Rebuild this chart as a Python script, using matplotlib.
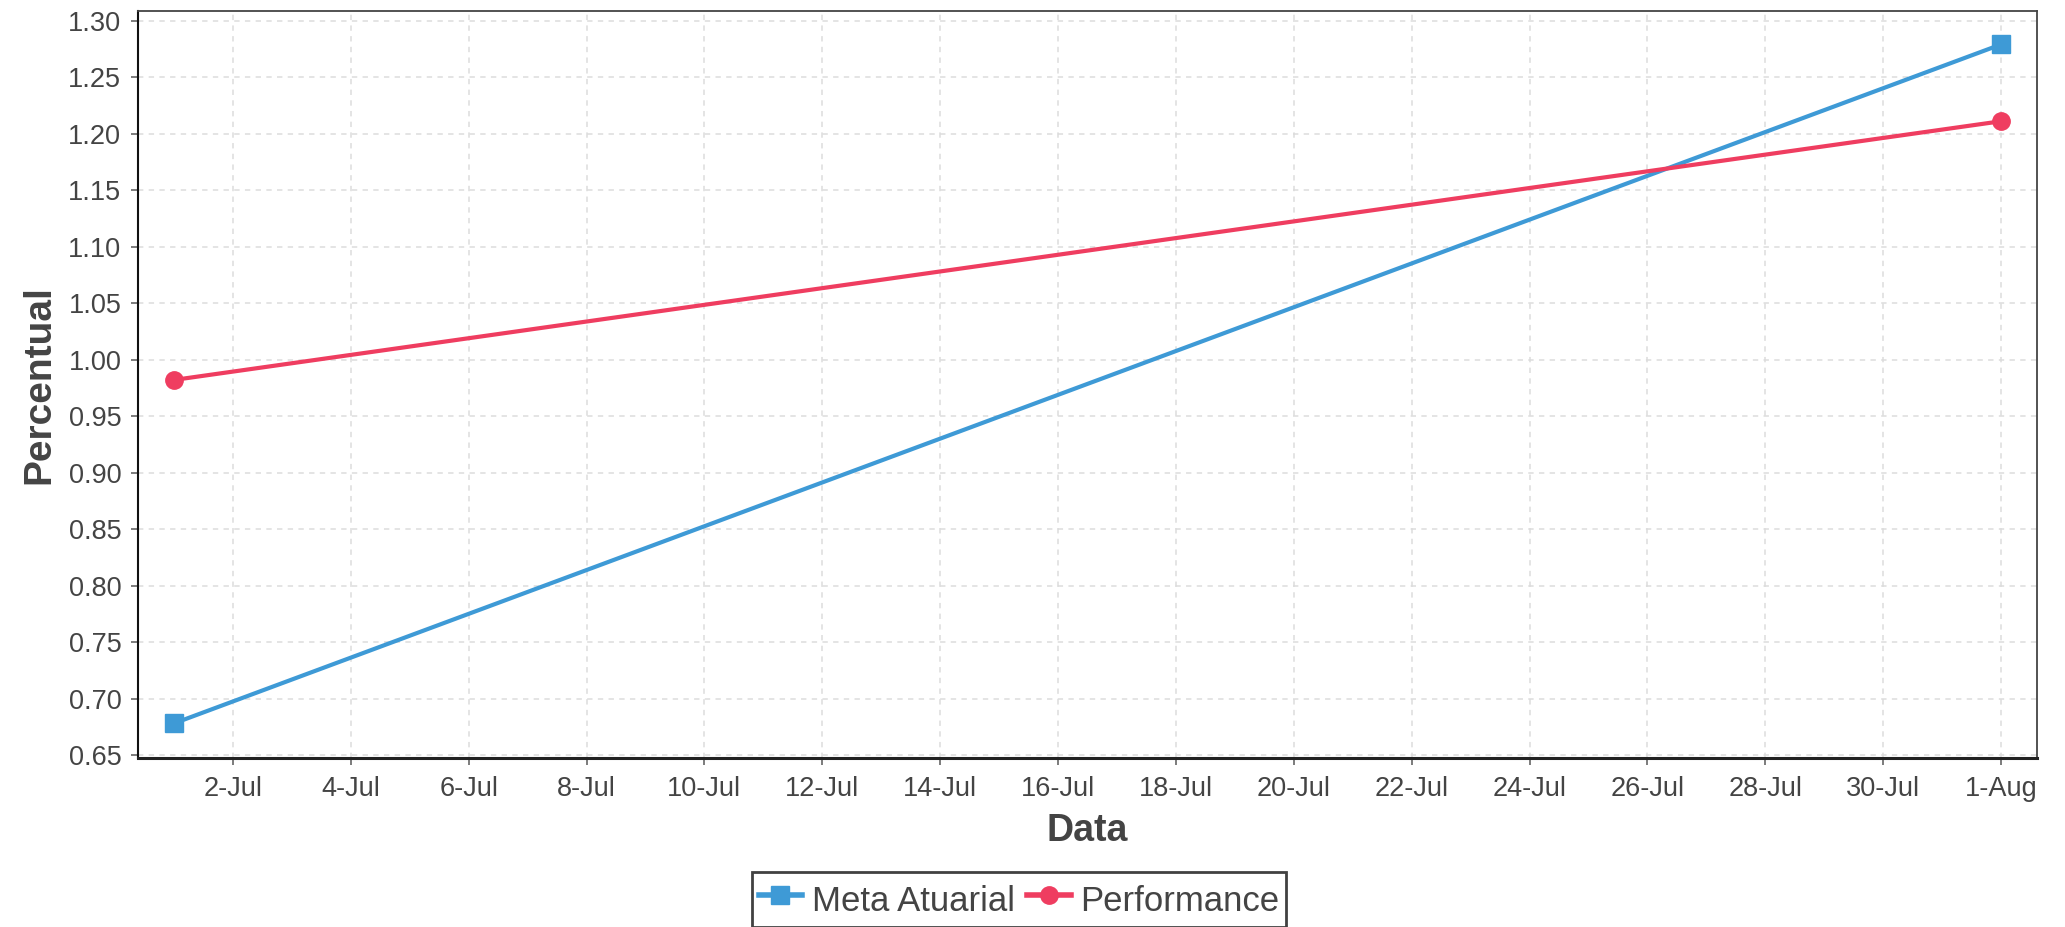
import matplotlib
matplotlib.use("Agg")
import matplotlib.pyplot as plt
import pandas as pd

# ---- data ----
dates = pd.to_datetime(["2020-07-01", "2020-08-01"])
meta_atuarial = [0.678, 1.279]
performance = [0.982, 1.211]
series_names = ["Meta Atuarial", "Performance"]
y_ticks = [0.65, 0.70, 0.75, 0.80, 0.85, 0.90, 0.95, 1.00, 1.05, 1.10, 1.15, 1.20, 1.25, 1.30]
x_ticks = pd.date_range("2020-07-02", "2020-08-01", freq="2D")
x_label = "Data"
y_label = "Percentual"

plt.rcParams["font.family"] = ["Liberation Sans", "DejaVu Sans"]

BLUE = "#3e9ad6"
RED = "#ef3d60"
TXT = "#444444"

fig = plt.figure(figsize=(20.65, 9.27), dpi=100)
ax = fig.add_axes([138 / 2065, 1 - 757.7 / 927, (2037 - 138) / 2065, (757.7 - 11) / 927])

ax.plot(dates, meta_atuarial, color=BLUE, lw=3, marker="s", ms=12.5,
        label=series_names[0], zorder=3)
ax.plot(dates, performance, color=RED, lw=3, marker="o", ms=12.5,
        label=series_names[1], zorder=3)

pad = pd.Timedelta(hours=0.61 * 24)
ax.set_xlim(dates[0] - pad, dates[-1] + pad)
ax.set_ylim(0.6476, 1.3086)

ax.set_xticks(x_ticks)
ax.set_xticklabels([f"{d.day}-{d.strftime('%b')}" for d in x_ticks])
ax.set_yticks(y_ticks)
ax.set_yticklabels([f"{v:.2f}" for v in y_ticks])

ax.grid(True, color="#dcdcdc", lw=1.1, linestyle=(0, (3.5, 3.5)), zorder=0)
ax.set_axisbelow(True)

ax.tick_params(axis="both", colors="#666666", length=5, width=1.2,
               labelsize=19.5, labelcolor=TXT)
ax.tick_params(axis="y", pad=7)
ax.tick_params(axis="x", pad=8)

for s in ["top", "right"]:
    ax.spines[s].set_color("#444444")
    ax.spines[s].set_linewidth(1.3)
ax.spines["left"].set_color("#111111")
ax.spines["left"].set_linewidth(1.5)
ax.spines["bottom"].set_color("#222222")
ax.spines["bottom"].set_linewidth(2.2)

ax.set_xlabel(x_label, fontsize=27, fontweight="bold", color=TXT, labelpad=8)
ax.set_ylabel(y_label, fontsize=28, fontweight="bold", color=TXT, labelpad=8)

leg = fig.legend(loc="upper center", bbox_to_anchor=(1019 / 2065, 1 - 872 / 927),
                 bbox_transform=fig.transFigure, ncol=2, fontsize=25,
                 frameon=True, fancybox=False, edgecolor="#111111",
                 handlelength=1.26, handletextpad=0.27, columnspacing=0.36,
                 borderpad=0.2, handleheight=1.45, borderaxespad=0, markerscale=1.0)
leg.get_frame().set_linewidth(2)
for line in leg.get_lines():
    line.set_linewidth(4)
for t in leg.get_texts():
    t.set_color(TXT)

fig.savefig("out.png", dpi=100)
